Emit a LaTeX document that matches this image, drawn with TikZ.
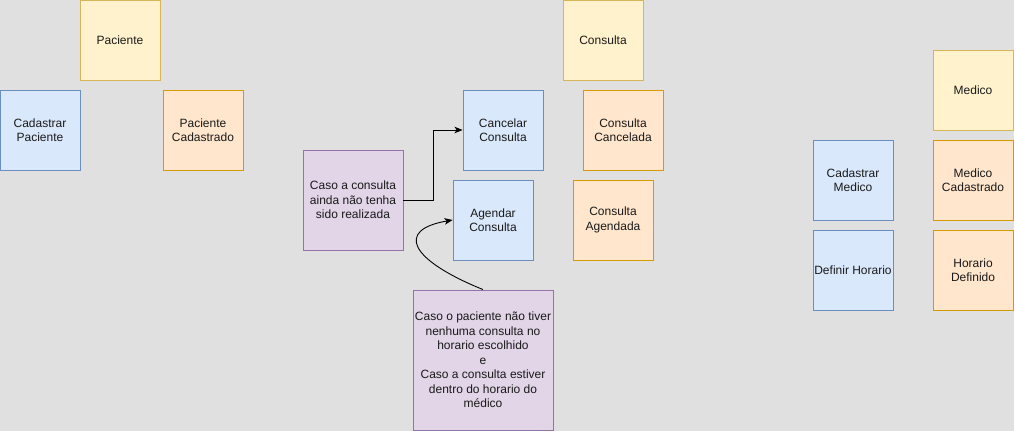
\documentclass[tikz,border=0pt]{standalone}
\usepackage{fontspec}
\setmainfont{Liberation Sans}
\usetikzlibrary{arrows.meta}
\definecolor{bg}{HTML}{E0E0E0}
\definecolor{yfill}{HTML}{FFF2CC}\definecolor{ydraw}{HTML}{D6B656}
\definecolor{bfill}{HTML}{DAE8FC}\definecolor{bdraw}{HTML}{6C8EBF}
\definecolor{ofill}{HTML}{FFE6CC}\definecolor{odraw}{HTML}{D79B00}
\definecolor{pfill}{HTML}{E1D5E7}\definecolor{pdraw}{HTML}{9673A6}
\definecolor{txt}{HTML}{1A1A1A}
\tikzset{
  box/.style={draw, line width=0.9pt, minimum width=80pt, minimum height=80pt, inner sep=1pt, align=center, text=txt, font=\fontsize{12}{14.5}\selectfont},
  yel/.style={box, fill=yfill, draw=ydraw},
  blu/.style={box, fill=bfill, draw=bdraw},
  ora/.style={box, fill=ofill, draw=odraw},
  pur/.style={box, fill=pfill, draw=pdraw},
  conn/.style={line width=0.9pt, -{Stealth[length=8pt,width=6.5pt,inset=2pt]}}
}
\begin{document}
\begin{tikzpicture}[x=1pt,y=-1pt]
\fill[bg] (0,0) rectangle (1014,431);
\useasboundingbox (0,0) rectangle (1014,431);
\node[yel] (pac) at (120,40) {Paciente};
\node[blu] (cadpac) at (40,130) {Cadastrar\\Paciente};
\node[ora] (paccad) at (203,130) {Paciente\\Cadastrado};
\node[yel] (cons) at (603,40) {Consulta};
\node[blu] (canc) at (503,130) {Cancelar\\Consulta};
\node[ora] (conscanc) at (623,130) {Consulta\\Cancelada};
\node[blu] (agen) at (493,220) {Agendar\\Consulta};
\node[ora] (consag) at (613,220) {Consulta\\Agendada};
\node[pur, minimum width=100pt, minimum height=100pt] (cond1) at (353,200) {Caso a consulta\\ainda não tenha\\sido realizada};
\node[pur, minimum width=140pt, minimum height=140pt] (cond2) at (483,360) {Caso o paciente não tiver\\nenhuma consulta no\\horario escolhido\\e\\Caso a consulta estiver\\dentro do horario do\\médico};
\node[yel] (med) at (973,90) {Medico};
\node[blu] (cadmed) at (853,180) {Cadastrar\\Medico};
\node[ora] (medcad) at (973,180) {Medico\\Cadastrado};
\node[blu] (defh) at (853,270) {Definir Horario};
\node[ora] (hdef) at (973,270) {Horario\\Definido};
\draw[conn] (cond1.east) -- ++(30,0) |- (canc.west);
\draw[conn] (cond2.north) .. controls (410,260) and (395,230) .. (agen.west);
\end{tikzpicture}
\end{document}
